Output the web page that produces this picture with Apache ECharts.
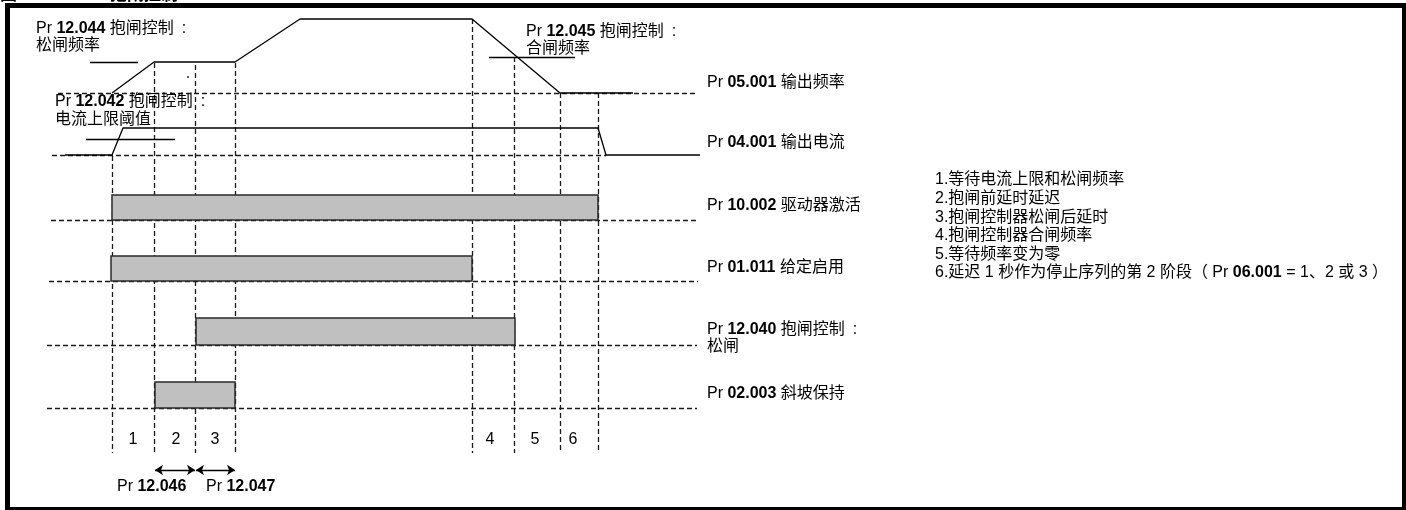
<!DOCTYPE html>
<html><head><meta charset="utf-8">
<script src="https://cdn.jsdelivr.net/npm/echarts@6/dist/echarts.min.js"></script>
<style>html,body{margin:0;padding:0;background:#fff}#c{width:1406px;height:510px}</style>
</head><body><div id="c"></div>
<script>
// ---- event times (diagram time units) ----
const eventTimes   = [112, 154, 195, 235, 472, 514, 560, 598];
const eventTops    = [156, 63, 65, 63, 19, 57, 93, 93];
const eventBottoms = [453, 453, 453, 453, 453, 453, 453, 450];

// ---- phase numbers ----
const phaseLabels = ['1', '2', '3', '4', '5', '6'];
const phaseT      = [133, 176, 215, 490, 535, 573];
const phaseLevel  = 440;

// ---- Pr 05.001 output frequency trace ----
const freqT = [112, 154, 235, 300, 472, 560, 633];
const freqV = [93, 62, 62, 19, 19, 93, 93];

// ---- Pr 04.001 output current trace ----
const curT = [65, 112, 123, 598, 606, 700];
const curV = [155, 155, 128, 128, 155, 155];

// ---- threshold markers [from, to, level] ----
const thresholdFrom  = [90, 86, 489];
const thresholdTo    = [138, 175, 575];
const thresholdLevel = [62, 139, 57];

// ---- small stray dot in the source ----
const dotPoint = [188, 77];

// ---- dashed baselines [from, to, level] ----
const baseFrom  = [58, 52, 51, 49, 47, 47];
const baseTo    = [697, 606, 698, 698, 697, 697];
const baseLevel = [93, 155, 220, 281, 345, 408];

// ---- digital signals ----
const signalNames = ['10.002', '01.011', '12.040', '02.003'];
const signalOn    = [112, 111, 196, 155];
const signalOff   = [598, 472, 515, 235];
const signalHigh  = [195, 256, 318, 382];
const signalLow   = [220, 281, 345, 408];

// ---- delay arrows ----
const arrowFrom  = [155, 196];
const arrowTo    = [195, 235];
const arrowLevel = 470;

// ---- texts ----
const rightParams = ['05.001', '04.001', '10.002', '01.011', '12.040', '02.003'];
const rightNames  = ['输出频率', '输出电流', '驱动器激活', '给定启用', '抱闸控制\u2002:', '斜坡保持'];
const rightLevels = [83, 143, 206, 268, 330, 394];
const notes = [
  '1.等待电流上限和松闸频率',
  '2.抱闸前延时延迟',
  '3.抱闸控制器松闸后延时',
  '4.抱闸控制器合闸频率',
  '5.等待频率变为零',
  '6.延迟 1 秒作为停止序列的第 2 阶段（ Pr {b|06.001} = 1、2 或 3 ）'
];

const FF = '"Liberation Sans", Arial, "Noto Sans CJK SC", sans-serif';
const texts = [];
function addText(t, v, s, align) { texts.push({ t: t, v: v, s: s, align: align || 'left' }); }
addText(36, 29, 'Pr {b|12.044} 抱闸控制\u2002:');
addText(36, 46, '松闸频率');
addText(55, 102, 'Pr {b|12.042} 抱闸控制\u2002:');
addText(55, 120, '电流上限阈值');
addText(526, 32, 'Pr {b|12.045} 抱闸控制\u2002:');
addText(526, 49, '合闸频率');
rightParams.forEach((p, i) => addText(707, rightLevels[i], 'Pr {b|' + p + '} ' + rightNames[i]));
addText(707, 347, '松闸');
notes.forEach((n, i) => addText(935, 180 + i * 18.6, n));
phaseLabels.forEach((l, i) => addText(phaseT[i], phaseLevel, l, 'center'));
addText(117, 487, 'Pr {b|12.046}');
addText(206, 487, 'Pr {b|12.047}');

const dashedSegs = [];
baseLevel.forEach((lv, i) => dashedSegs.push({ coords: [[baseFrom[i], lv], [baseTo[i], lv]] }));
eventTimes.forEach((t, i) => dashedSegs.push({ coords: [[t, eventTops[i]], [t, eventBottoms[i]]] }));

const solidSegs = thresholdLevel.map((lv, i) => ({ coords: [[thresholdFrom[i], lv], [thresholdTo[i], lv]] }));
const arrowSegs = arrowFrom.map((f, i) => ({ coords: [[f, arrowLevel], [arrowTo[i], arrowLevel]] }));

const chart = echarts.init(document.getElementById('c'), null, { renderer: 'canvas' });
chart.setOption({
  animation: false,
  backgroundColor: '#fff',
  grid: { left: 0, right: 0, top: 0, bottom: 0, containLabel: false },
  xAxis: { type: 'value', min: 0, max: 1406, show: false },
  yAxis: { type: 'value', min: 0, max: 510, inverse: true, show: false },
  graphic: [
    { type: 'text', left: 0, top: -13, z: 1, style: { text: '图', font: 'bold 17px ' + FF, fill: '#000' } },
    { type: 'text', left: 110, top: -13, z: 1, style: { text: '抱闸控制', font: 'bold 17px ' + FF, fill: '#000' } },
    { type: 'rect', z: 100, shape: { x: 5, y: 3, width: 1401, height: 5 }, style: { fill: '#000' } },
    { type: 'rect', z: 100, shape: { x: 5, y: 3, width: 5, height: 507 }, style: { fill: '#000' } },
    { type: 'rect', z: 100, shape: { x: 1402, y: 3, width: 4, height: 507 }, style: { fill: '#000' } },
    { type: 'rect', z: 100, shape: { x: 5, y: 507, width: 1401, height: 3 }, style: { fill: '#000' } }
  ],
  series: [
    {
      type: 'lines', coordinateSystem: 'cartesian2d', silent: true, z: 1,
      lineStyle: { color: '#1a1a1a', width: 1.3, type: [5, 3], opacity: 1 },
      data: dashedSegs
    },
    {
      type: 'custom', silent: true, z: 3,
      data: signalNames.map((n, i) => [signalOn[i], signalHigh[i], signalOff[i], signalLow[i]]),
      renderItem: function (params, api) {
        const p0 = api.coord([api.value(0), api.value(1)]);
        const p1 = api.coord([api.value(2), api.value(3)]);
        return {
          type: 'rect',
          shape: { x: p0[0], y: p0[1], width: p1[0] - p0[0], height: p1[1] - p0[1] },
          style: { fill: '#c0c0c0', stroke: '#2a2a2a', lineWidth: 1.5 }
        };
      }
    },
    {
      type: 'line', silent: true, z: 4, showSymbol: false, symbol: 'none',
      lineStyle: { color: '#000', width: 1.3 },
      data: freqT.map((t, i) => [t, freqV[i]])
    },
    {
      type: 'line', silent: true, z: 4, showSymbol: false, symbol: 'none',
      lineStyle: { color: '#000', width: 1.3 },
      data: curT.map((t, i) => [t, curV[i]])
    },
    {
      type: 'lines', coordinateSystem: 'cartesian2d', silent: true, z: 4,
      lineStyle: { color: '#000', width: 1.3, type: 'solid', opacity: 1 },
      data: solidSegs
    },
    {
      type: 'scatter', silent: true, z: 4, symbol: 'rect', symbolSize: 2,
      itemStyle: { color: '#333' },
      data: [dotPoint]
    },
    {
      type: 'lines', coordinateSystem: 'cartesian2d', silent: true, z: 4,
      symbol: ['arrow', 'arrow'], symbolSize: 8,
      lineStyle: { color: '#000', width: 1.3, type: 'solid', opacity: 1 },
      data: arrowSegs
    },
    {
      type: 'custom', silent: true, z: 5,
      data: texts.map((d, i) => [d.t, d.v, i]),
      renderItem: function (params, api) {
        const d = texts[api.value(2)];
        const p = api.coord([api.value(0), api.value(1)]);
        return {
          type: 'text', x: p[0], y: p[1],
          style: {
            text: d.s, fill: '#000', fontSize: 16, fontFamily: FF,
            align: d.align, verticalAlign: 'middle',
            rich: {
              b: { fontSize: 16, fontFamily: FF, fontWeight: 'bold', fill: '#000' }
            }
          }
        };
      }
    }
  ]
});
</script></body></html>
